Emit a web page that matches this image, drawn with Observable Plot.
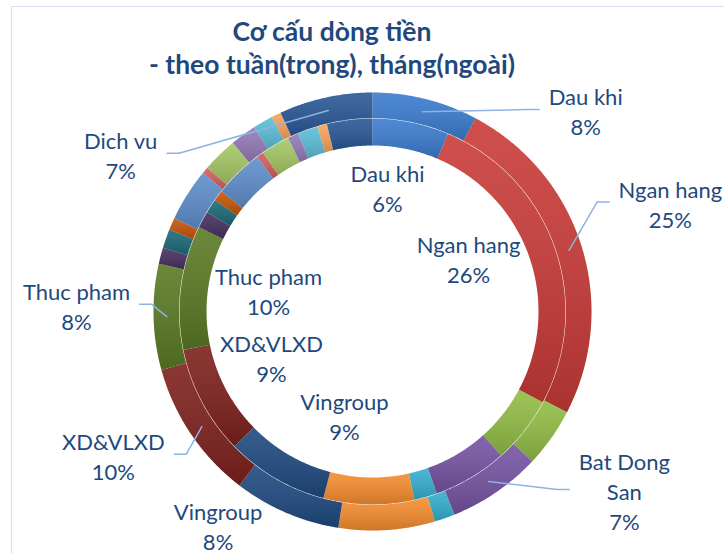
<!DOCTYPE html>
<html><head><meta charset="utf-8">
<script src="https://cdn.jsdelivr.net/npm/d3@7"></script>
<script src="https://cdn.jsdelivr.net/npm/@observablehq/plot@0.6"></script>
<style>
body{margin:0;background:#fff;}
#wrap{position:relative;width:724px;height:554px;overflow:hidden;font-family:Lato,sans-serif;background:#fff;}
#frame{position:absolute;left:11px;top:6px;width:900px;height:900px;border:1.5px solid #d8e2ee;box-sizing:border-box;}
#title{position:absolute;left:0;top:15px;width:664px;text-align:center;font-weight:700;font-size:26.5px;line-height:33px;color:#1f497d;}
#chart{position:absolute;left:0;top:0;}
</style></head>
<body>
<svg width="0" height="0" style="position:absolute"><defs>
<linearGradient id="shade" x1="0" y1="0" x2="0" y2="1">
<stop offset="0" stop-color="#fff" stop-opacity="0.10"/>
<stop offset="1" stop-color="#000" stop-opacity="0.16"/>
</linearGradient>
<filter id="blurShadow" x="-10%" y="-10%" width="120%" height="125%">
  <feGaussianBlur in="SourceGraphic" stdDeviation="3"/>
</filter>
</defs></svg>
<div id="wrap"><div id="frame"></div><div id="chart"></div><div id="title">Cơ cấu dòng tiền<br>- theo tuần(trong), tháng(ngoài)</div></div>
<script>
// ---- data ----
const categories = ["Dau khi","Ngan hang","Nhom 3","Bat Dong San","Nhom 5","Nhom 6","Vingroup","XD&VLXD","Thuc pham",
  "Nhom 10","Nhom 11","Nhom 12","Nhom 13","Nhom 14","Nhom 15","Nhom 16","Nhom 17","Nhom 18","Dich vu"];
// outer ring: by month (%)
const monthShares = [7.8, 24.8, 4.4, 6.9, 1.5, 7.1, 7.9, 10.3, 7.8, 1.2, 1.4, 0.9, 3.9, 0.5, 2.6, 1.9, 1.5, 0.7, 6.9];
// inner ring: by week (%)
const weekShares  = [6.4, 26.4, 5.6, 6.2, 1.9, 7.6, 8.6, 9.1, 10.4, 1.4, 1.2, 0.9, 4.1, 0.6, 2.4, 0.9, 1.7, 0.8, 3.8];
const monthLabelled = ["Dau khi","Ngan hang","Bat Dong San","Vingroup","XD&VLXD","Thuc pham","Dich vu"];
const weekLabelled  = ["Dau khi","Ngan hang","Thuc pham","XD&VLXD","Vingroup"];

// ---- style / layout ----
const palette = ["#3b7ccf","#c93b38","#92bc45","#7654a3","#35aece","#f58d2f","#1f4a80","#7e211d","#5a7a24",
  "#46305f","#1c6878","#c45409","#5e8ecc","#d2605e","#a5c765","#9479b8","#5cbfd8","#f8a35a","#2a5897"];
const cx = 372, cy = 311, R = 219;
const ringRadii = {week: [166 / R, 192.9 / R], month: [193.4 / R, 1]};
// label placement (polar: degrees clockwise from top, radius in px)
const labelLayout = {
  week:  {"Dau khi":[6.9,125], "Ngan hang":[61.1,109.7], "Thuc pham":[281.4,106], "XD&VLXD":[245.5,111], "Vingroup":[195.1,107.7]},
  month: {"Dau khi":[46.7,292.9], "Ngan hang":[70,317], "Bat Dong San":[125.4,309], "Vingroup":[215.8,264],
          "XD&VLXD":[241,296.3], "Thuc pham":[271.2,296], "Dich vu":[302,296.9]}
};
const wrapLabels = ["Bat Dong San"];
const noLeader = ["Vingroup"];
const FONT = 22, textColor = "#1f497d";

function slices(values, ring) {
  const total = d3.sum(values);
  let acc = 0;
  return categories.map((c, i) => {
    const a0 = acc / total * 2 * Math.PI; acc += values[i];
    const a1 = acc / total * 2 * Math.PI;
    return {cat: c, ring, a0, a1, mid: (a0 + a1) / 2, pct: Math.round(values[i] / total * 100)};
  });
}
function polygons(sl) {
  const pts = [];
  for (const s of sl) {
    const [r0, r1] = ringRadii[s.ring];
    const n = Math.max(2, Math.ceil((s.a1 - s.a0) / (Math.PI / 360)));
    const key = s.ring + "|" + s.cat;
    for (let k = 0; k <= n; k++) { const a = s.a0 + (s.a1 - s.a0) * k / n; pts.push({key, cat: s.cat, x: r1 * Math.sin(a), y: r1 * Math.cos(a)}); }
    for (let k = n; k >= 0; k--) { const a = s.a0 + (s.a1 - s.a0) * k / n; pts.push({key, cat: s.cat, x: r0 * Math.sin(a), y: r0 * Math.cos(a)}); }
  }
  return pts;
}
const monthSlices = slices(monthShares, "month");
const weekSlices = slices(weekShares, "week");
const monthPoly = polygons(monthSlices);
const weekPoly = polygons(weekSlices);
// shadow: same outer-ring geometry shifted slightly down-right
const shadowPoly = monthPoly.map(p => ({...p, x: p.x + 1.5 / R, y: p.y - 3 / R}));

const ctx = document.createElement("canvas").getContext("2d");
ctx.font = `${FONT}px Lato`;

function labelsFor(sl, names, ring) {
  return sl.filter(s => names.includes(s.cat)).map(s => {
    const [deg, rpx] = labelLayout[ring][s.cat];
    const a = deg * Math.PI / 180;
    const name = wrapLabels.includes(s.cat) && ring === "month" ? s.cat.replace(/ (?=[^ ]*$)/, "\n") : s.cat;
    const text = name + "\n" + s.pct + "%";
    const w = d3.max(text.split("\n"), t => ctx.measureText(t).width);
    return {...s, text, w, x: rpx / R * Math.sin(a), y: rpx / R * Math.cos(a)};
  });
}
const monthLabels = labelsFor(monthSlices, monthLabelled, "month");
const weekLabels = labelsFor(weekSlices, weekLabelled, "week");

const leaders = [];
for (const l of monthLabels) {
  if (noLeader.includes(l.cat)) continue;
  const side = l.x > 0 ? 1 : -1;
  const sx = 0.94 * Math.sin(l.mid), sy = 0.94 * Math.cos(l.mid);
  const endX = l.x - side * (l.w / 2 + 9.5) / R;
  const elbX = endX - side * 12 / R;
  const ly = l.y + 1 / R;
  leaders.push({key: l.cat, x: sx, y: sy}, {key: l.cat, x: elbX, y: ly}, {key: l.cat, x: endX, y: ly});
}

const chart = Plot.plot({
  width: 724, height: 554, margin: 0,
  x: {domain: [-1, 1], range: [cx - R, cx + R], axis: null},
  y: {domain: [-1, 1], range: [cy + R, cy - R], axis: null},
  color: {domain: categories, range: palette},
  style: {background: "transparent", overflow: "visible"},
  marks: [
    Plot.line(shadowPoly, {x: "x", y: "y", z: "key", fill: "#000", fillOpacity: 0.28, stroke: "none", curve: "linear-closed", ariaLabel: "ring-shadow"}),
    Plot.line(monthPoly, {x: "x", y: "y", z: "key", fill: "cat", stroke: "none", curve: "linear-closed"}),
    Plot.line(monthPoly, {x: "x", y: "y", z: "key", fill: "url(#shade)", stroke: "none", curve: "linear-closed"}),
    Plot.line(weekPoly, {x: "x", y: "y", z: "key", fill: "cat", stroke: "none", curve: "linear-closed"}),
    Plot.line(weekPoly, {x: "x", y: "y", z: "key", fill: "url(#shade)", stroke: "none", curve: "linear-closed"}),
    Plot.line(leaders, {x: "x", y: "y", z: "key", stroke: "#8db3e2", strokeWidth: 1.5}),
    Plot.text(monthLabels, {x: "x", y: "y", text: "text", fontSize: FONT, lineHeight: 30 / FONT, fill: textColor, fontFamily: "Lato"}),
    Plot.text(weekLabels, {x: "x", y: "y", text: "text", fontSize: FONT, lineHeight: 30 / FONT, fill: textColor, fontFamily: "Lato"})
  ]
});
document.getElementById("chart").appendChild(chart);
const sh = chart.querySelector('g[aria-label="ring-shadow"]');
if (sh) sh.setAttribute("filter", "url(#blurShadow)");
</script>
</body></html>
